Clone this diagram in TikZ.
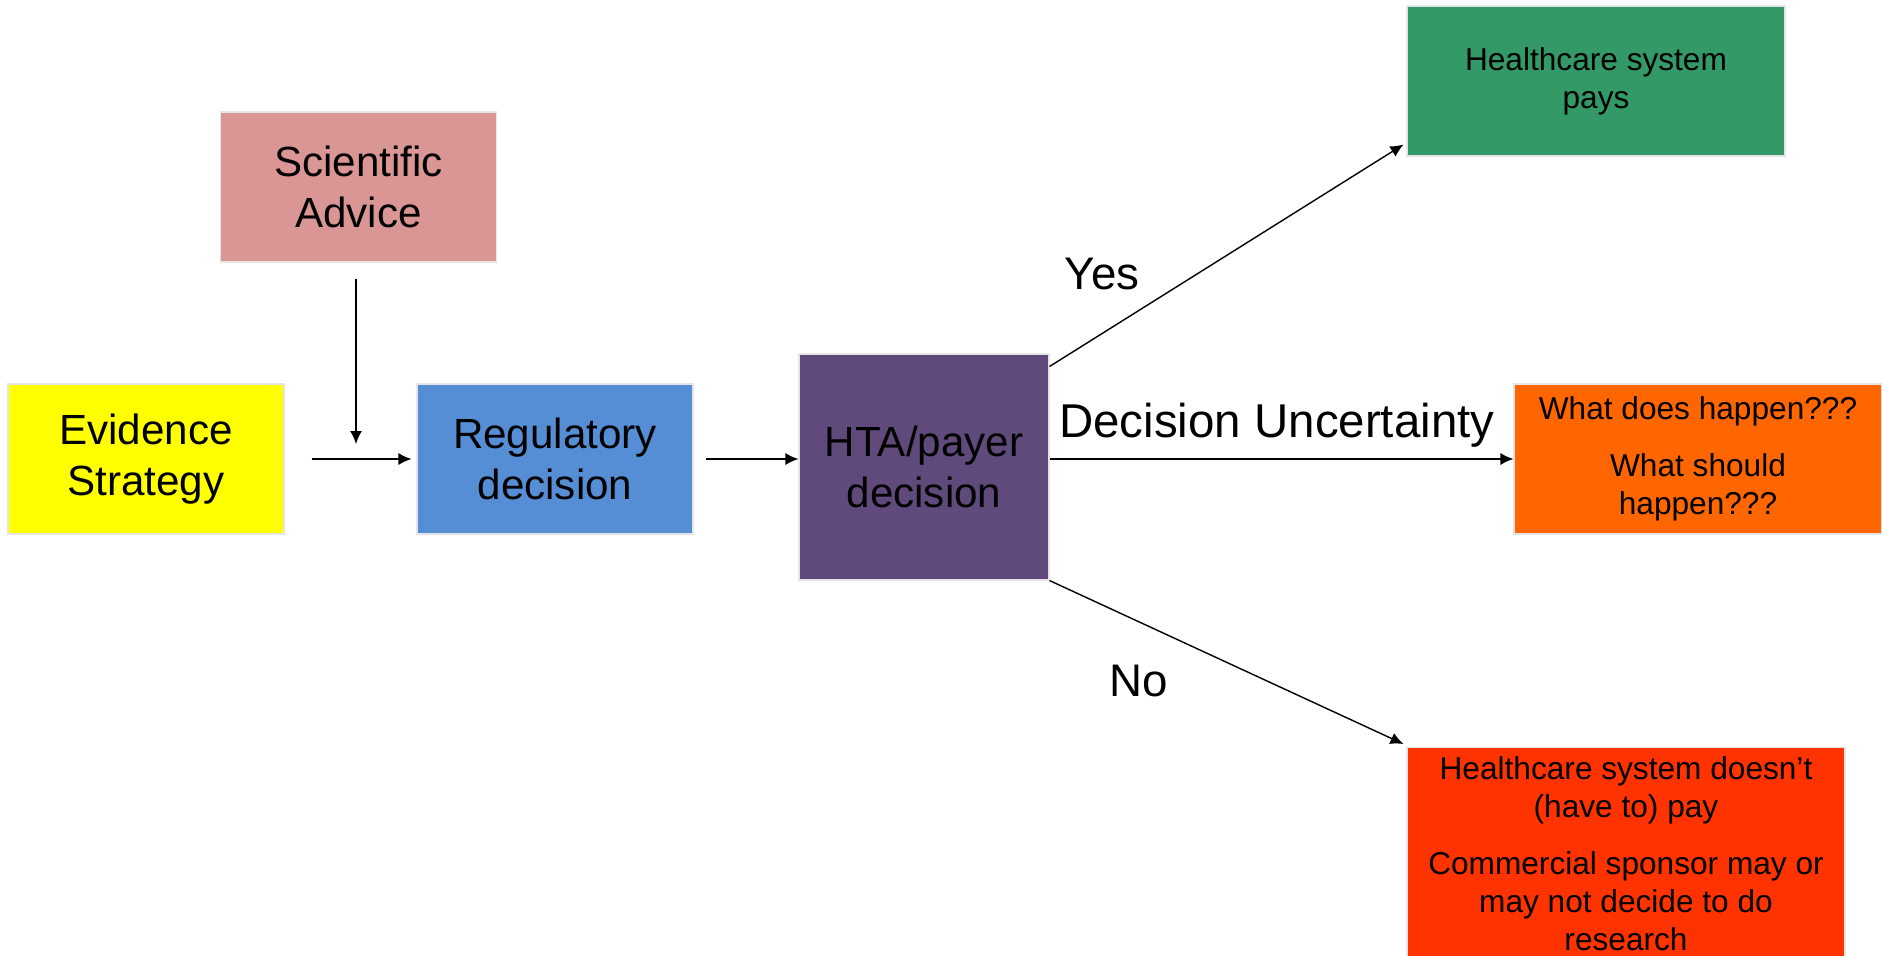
\documentclass[tikz,border=0pt]{standalone}
\usepackage{fontspec}
\setmainfont{Liberation Sans}
\usepackage{tikz}
\usetikzlibrary{arrows.meta, positioning}

\definecolor{rosa}{RGB}{218,150,148}
\definecolor{azul}{RGB}{85,142,213}
\definecolor{morado}{RGB}{96,74,123}
\definecolor{verde}{RGB}{51,153,102}
\definecolor{naranja}{RGB}{255,102,0}
\definecolor{rojo}{RGB}{255,51,0}
\definecolor{amarillo}{RGB}{255,255,0}

\begin{document}
\begin{tikzpicture}[
		caja/.style={draw=black!10, line width=0.6pt, minimum width=5.52cm, minimum height=3cm, align=center, inner sep=2pt, font=\fontsize{24}{28.8}\selectfont},
		cajachica/.style={caja, font=\fontsize{18}{21.6}\selectfont},
		flecha/.style={-{Latex[length=2.6mm, width=2.4mm]}, line width=0.8pt},
		etiqueta/.style={font=\fontsize{26}{31}\selectfont}]
		% Marco de la diapositiva
		\useasboundingbox (0,0) rectangle (37.64,-19.1);
		% Cajas de la izquierda
		\node[caja, fill=rosa] (sci) at (7.17,-3.74) {Scientific\\Advice};
		\node[caja, fill=amarillo] (ev) at (2.92,-9.18) {Evidence\\Strategy};
		\node[caja, fill=azul] (reg) at (11.1,-9.18) {Regulatory\\decision};
		\node[caja, fill=morado, minimum width=5cm, minimum height=4.52cm] (hta) at (18.48,-9.34) {HTA/payer\\decision};
		% Resultados
		\node[cajachica, fill=verde, minimum width=7.56cm] (pays) at (31.92,-1.62) {Healthcare system\\pays};
		\node[cajachica, fill=naranja, minimum width=7.36cm] (what) at (33.96,-9.18) {What does happen???\\[0.38cm]What should\\happen???};
		\node[cajachica, fill=rojo, minimum width=8.76cm, minimum height=0pt, inner ysep=5pt, anchor=north] (nopay) at (32.52,-14.94) {Healthcare system doesn't\\(have to) pay\\[0.38cm]Commercial sponsor may or\\may not decide to do\\research};
		% Flechas
		\coordinate (junta) at (7.12,-8.88);
		\draw[flecha, shorten <=0.32cm] (sci.south -| junta) -- (junta);
		\draw[flecha, shorten <=0.54cm, shorten >=0.1cm] (ev) -- (reg);
		\draw[flecha, shorten <=0.24cm] (reg.east) -- (hta.west |- reg.east);
		\draw[flecha] ([yshift=-0.26cm]hta.north east) -- ([xshift=-0.06cm, yshift=0.24cm]pays.south west);
		\draw[flecha] (hta.east |- what.west) -- (what.west) node[etiqueta, font=\fontsize{27}{32}\selectfont, pos=0.49, above=0.1cm] (du) {Decision Uncertainty};
		\draw[flecha] (hta.south east) -- ([xshift=-0.06cm, yshift=0.06cm]nopay.north west);
		% Etiquetas de las ramas
		\node[etiqueta] (yes) at (22.04,-5.48) {Yes};
		\node[etiqueta] (no) at (22.78,-13.62) {No};
	\end{tikzpicture}
\end{document}
